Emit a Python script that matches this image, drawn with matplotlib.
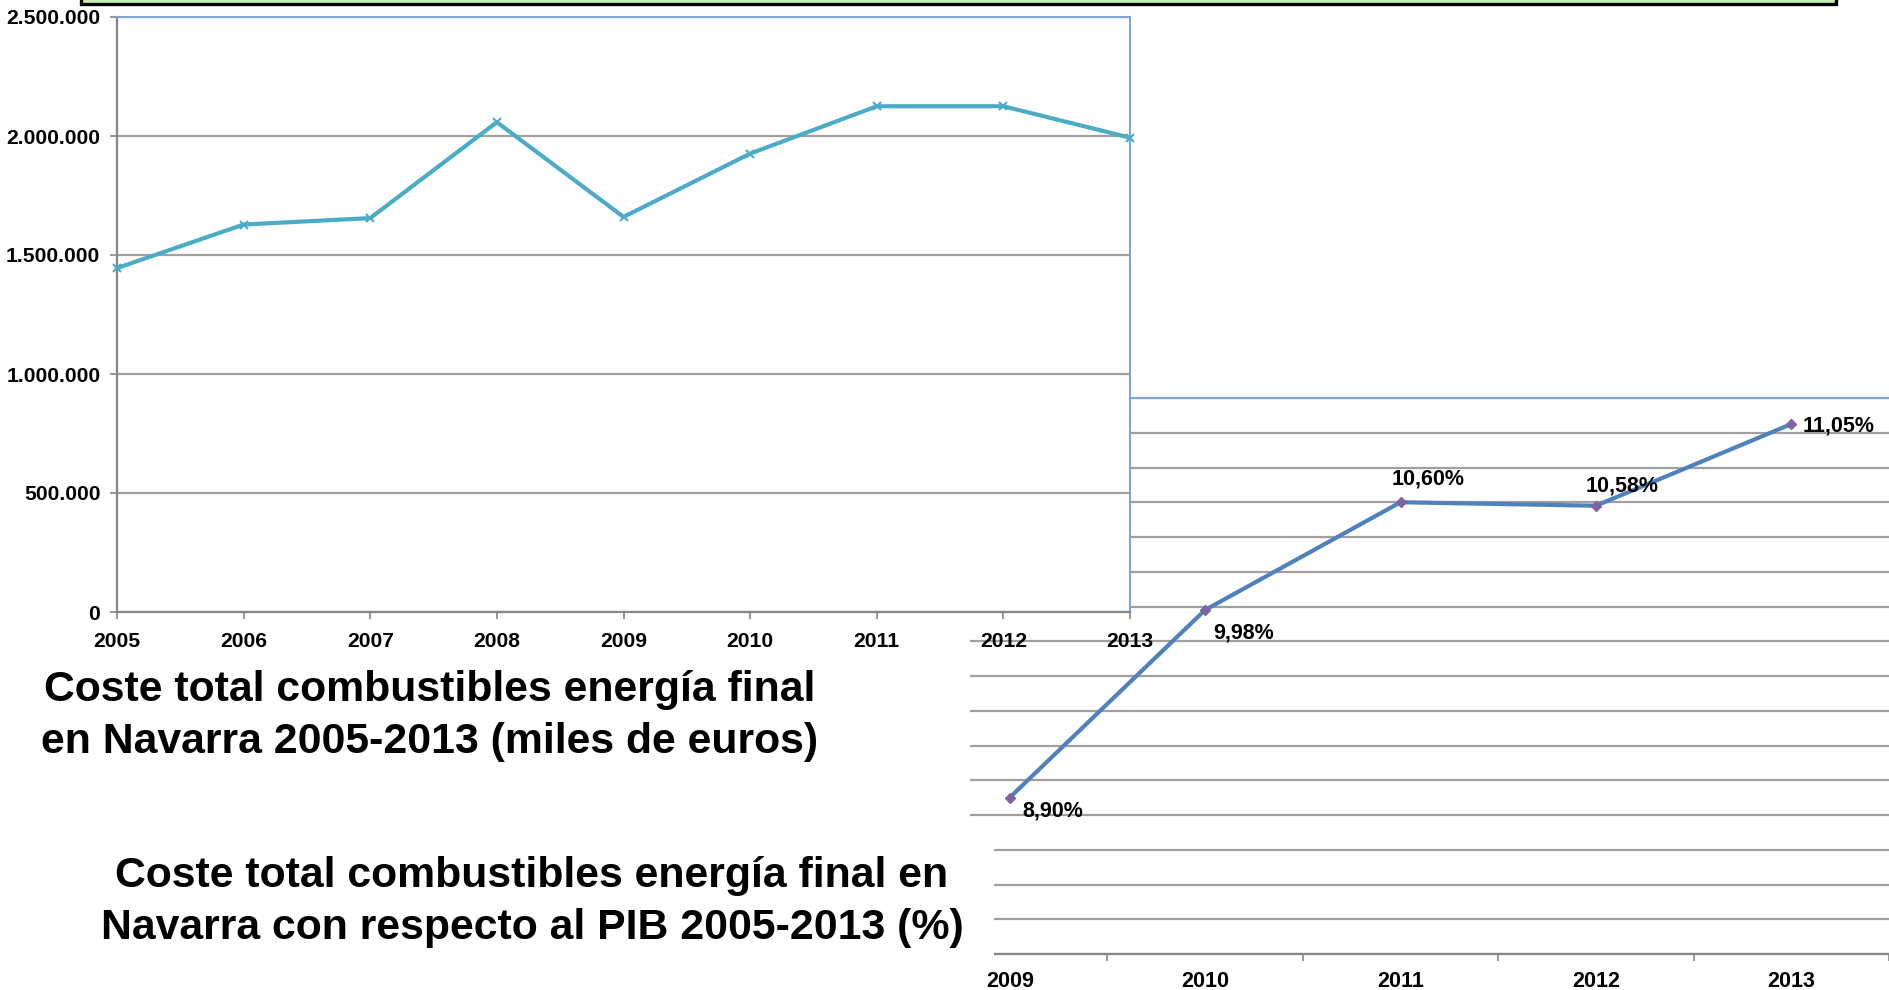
import matplotlib.pyplot as plt
import matplotlib.patches as patches
import numpy as np

plt.rcParams['font.family'] = ['Liberation Sans', 'DejaVu Sans']
plt.rcParams['font.weight'] = 'bold'

# data
years_cost = ['2005', '2006', '2007', '2008', '2009', '2010', '2011', '2012', '2013']
cost_miles_eur = [1445000, 1628000, 1655000, 2058000, 1660000, 1926000, 2125000, 2125000, 1993000]
cost_yticks = [0, 500000, 1000000, 1500000, 2000000, 2500000]
cost_ytick_labels = ['0', '500.000', '1.000.000', '1.500.000', '2.000.000', '2.500.000']

years_pib = ['2009', '2010', '2011', '2012', '2013']
pct_pib = [8.90, 9.98, 10.60, 10.58, 11.05]
pct_labels = ['8,90%', '9,98%', '10,60%', '10,58%', '11,05%']

title_cost = 'Coste total combustibles energía final\nen Navarra 2005-2013 (miles de euros)'
title_pib = 'Coste total combustibles energía final en\nNavarra con respecto al PIB 2005-2013 (%)'

W, H = 1889, 990


def px_box(left, top, right, bottom):
    # pixel box (from top-left) -> figure fraction rect
    return [left / W, 1 - bottom / H, (right - left) / W, (bottom - top) / H]


fig = plt.figure(figsize=(W / 100, H / 100), dpi=100)
fig.patch.set_facecolor('white')

grid_col = '#A0A0A0'
axis_col = '#868686'
border_col = '#7EA6D6'

# ---------------- lower chart (% of PIB) ----------------
ax2 = fig.add_axes(px_box(912, 398, 1889, 954), zorder=1)
ax2.set_facecolor('white')
x2 = np.arange(len(years_pib))
ax2.plot(x2, pct_pib, color='#4F81BD', lw=3.0, marker='D', ms=5,
         mfc='#8064A2', mec='#8064A2', zorder=5, clip_on=False)
ax2.set_xlim(-0.5, len(years_pib) - 0.5)
ax2.set_ylim(8.0, 11.2)
ax2.set_yticks(np.arange(8.0, 11.21, 0.2))
ax2.yaxis.grid(True, color=grid_col, lw=1.6)
ax2.set_axisbelow(True)
ax2.tick_params(axis='y', length=0, labelleft=False)
ax2.set_xticks(np.arange(-0.5, len(years_pib), 1.0))
ax2.set_xticklabels([])
ax2.tick_params(axis='x', which='major', length=5, width=1.2, color=axis_col)
ax2.set_xticks(x2, minor=True)
ax2.set_xticklabels(years_pib, minor=True, fontsize=15.5, fontweight='bold')
ax2.tick_params(axis='x', which='minor', length=0, pad=12.5)
for s in ['left', 'right']:
    ax2.spines[s].set_visible(False)
ax2.spines['bottom'].set_color(axis_col)
ax2.spines['bottom'].set_linewidth(1.6)
ax2.spines['top'].set_color(border_col)
ax2.spines['top'].set_linewidth(1.5)

label_offsets = [(13, -13, 'left'), (8, -23, 'left'), (28, 23, 'center'),
                 (26, 20, 'center'), (11, -2, 'left')]
for xi, yi, txt, (dx, dy, ha) in zip(x2, pct_pib, pct_labels, label_offsets):
    ax2.annotate(txt, (xi, yi), xytext=(dx, dy), textcoords='offset pixels',
                 ha=ha, va='center', fontsize=15.5, fontweight='bold', zorder=6)

# white boxes behind the titles (they hide the left part of the lower chart)
fig.add_artist(patches.Rectangle((0, 1 - 832 / H), 970 / W, 220 / H,
                                 transform=fig.transFigure, facecolor='white',
                                 edgecolor='none', zorder=2))
fig.add_artist(patches.Rectangle((0, 1 - 965 / H), 994 / W, 133 / H,
                                 transform=fig.transFigure, facecolor='white',
                                 edgecolor='none', zorder=2))

# ---------------- upper chart (miles de euros) ----------------
ax1 = fig.add_axes(px_box(117, 17, 1130, 612), zorder=3)
ax1.set_facecolor('white')
x1 = np.arange(len(years_cost))
ax1.plot(x1, cost_miles_eur, color='#4BACC6', lw=3.0, marker='x', ms=6, mew=1.5,
         zorder=5, clip_on=False)
ax1.set_xlim(0, len(years_cost) - 1)
ax1.set_ylim(0, 2500000)
ax1.set_yticks(cost_yticks)
ax1.set_yticklabels(cost_ytick_labels, fontsize=15.2, fontweight='bold')
ax1.set_xticks(x1)
ax1.set_xticklabels(years_cost, fontsize=15.2, fontweight='bold')
ax1.yaxis.grid(True, color=grid_col, lw=1.6)
ax1.set_axisbelow(True)
ax1.tick_params(axis='y', length=5, width=1.2, color=axis_col, pad=7)
ax1.tick_params(axis='x', length=5, width=1.2, color=axis_col, pad=9.5)
for s in ['left', 'bottom']:
    ax1.spines[s].set_color(axis_col)
    ax1.spines[s].set_linewidth(1.6)
for s in ['top', 'right']:
    ax1.spines[s].set_color(border_col)
    ax1.spines[s].set_linewidth(1.5)

# titles
fig.text(430 / W, 1 - 716 / H, title_cost, ha='center', va='center',
         fontsize=30.8, fontweight='bold', linespacing=1.36, zorder=4)
fig.text(532 / W, 1 - 902 / H, title_pib, ha='center', va='center',
         fontsize=30.8, fontweight='bold', linespacing=1.36, zorder=4)

# cut-off text box at the top edge
fig.add_artist(patches.Rectangle((81 / W, 1 - 4 / H), (1836 - 81) / W, 20 / H,
                                 transform=fig.transFigure, facecolor='#C6EFB4',
                                 edgecolor='black', lw=2.4, zorder=4))

fig.savefig('out.png', dpi=100, facecolor='white')
